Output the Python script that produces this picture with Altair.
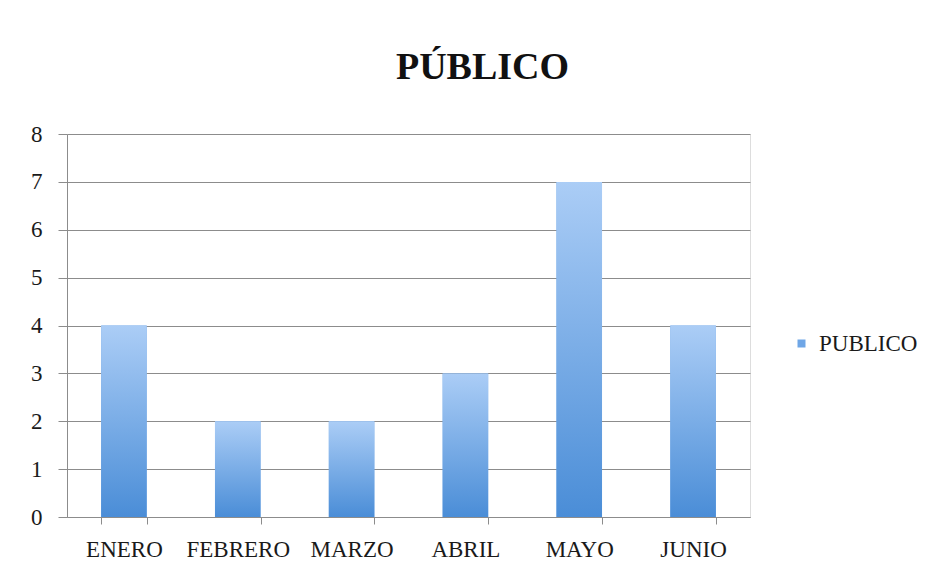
import altair as alt
import pandas as pd

months = ["ENERO", "FEBRERO", "MARZO", "ABRIL", "MAYO", "JUNIO"]
values = [4, 2, 2, 3, 7, 4]
series = ["PUBLICO"] * 6
y_ticks = [0, 1, 2, 3, 4, 5, 6, 7, 8]

df = pd.DataFrame({"mes": months, "valor": values, "serie": series})

FONT = "Liberation Serif"

x_enc = alt.X("mes:N", sort=months, title=None,
              scale=alt.Scale(paddingInner=0.6, paddingOuter=0.3),
              axis=alt.Axis(labelAngle=0, tickBand="extent", tickSize=7,
                            labelPadding=14, labelFontSize=23, labelFont=FONT,
                            labelColor="#1a1a1a", domainColor="#8c8c8c",
                            tickColor="#8c8c8c", grid=False))
y_enc = alt.Y("valor:Q", title=None,
              scale=alt.Scale(domain=[0, 8]),
              axis=alt.Axis(values=y_ticks, tickSize=9, labelPadding=16,
                            labelFontSize=23, labelFont=FONT, labelColor="#1a1a1a",
                            domainColor="#8c8c8c", tickColor="#8c8c8c",
                            gridColor="#8c8c8c", gridOpacity=1, grid=True))

legend_bars = alt.Chart(df).mark_bar().encode(
    x=x_enc, y=y_enc,
    color=alt.Color("serie:N", scale=alt.Scale(range=["#6fa6e6"]),
                    legend=alt.Legend(title=None, orient="none", legendX=723, legendY=198,
                                      symbolType="square", symbolSize=64,
                                      labelFont=FONT, labelFontSize=23,
                                      labelColor="#1a1a1a", symbolStrokeWidth=0,
                                      labelOffset=6)),
)

gradient_bars = alt.Chart(df).mark_bar(
    color=alt.Gradient(
        gradient="linear",
        stops=[alt.GradientStop(color="#abcdf6", offset=0),
               alt.GradientStop(color="#4a8dd7", offset=1)],
        x1=0, x2=0, y1=0, y2=1,
    )
).encode(x=x_enc, y=y_enc)

chart = alt.layer(legend_bars, gradient_bars).properties(
    width=683, height=383,
    title=alt.TitleParams("PÚBLICO", font=FONT, fontSize=38, fontWeight="bold",
                          color="#111111", anchor="middle", dx=74, offset=6,
                          baseline="alphabetic"),
    autosize=alt.AutoSizeParams(type="none"),
    padding={"left": 59, "top": 126, "right": 189, "bottom": 48},
).configure_view(stroke="transparent", strokeWidth=0).configure(background="white")

chart.save("out.html", embed_options={"renderer": "svg", "actions": False})
